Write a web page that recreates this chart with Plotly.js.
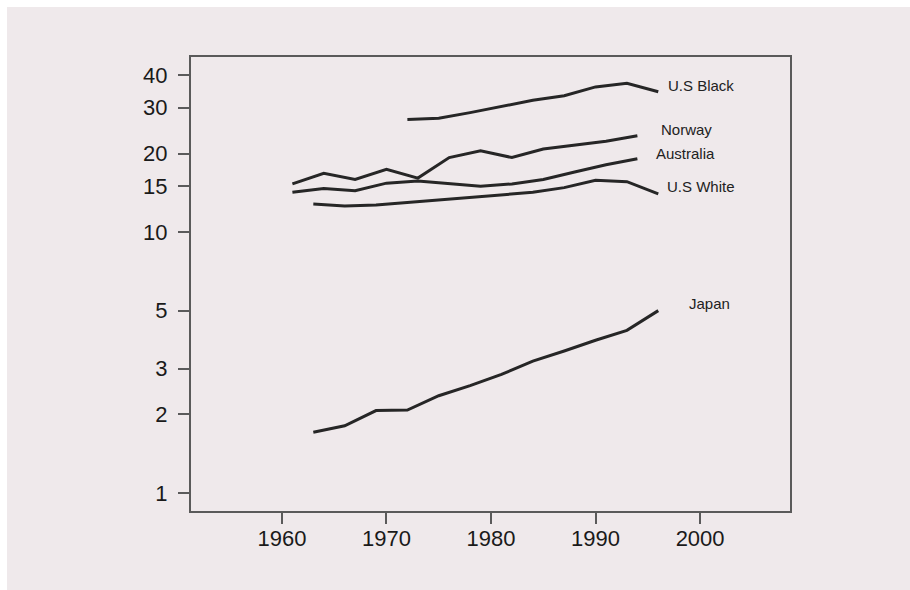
<!DOCTYPE html>
<html>
<head>
<meta charset="utf-8">
<script src="https://cdn.plot.ly/plotly-3.0.1.min.js"></script>
<style>
  html, body { margin: 0; padding: 0; background: #efe9eb; overflow: hidden; }
  #topstrip { position: absolute; left: 0; top: 0; width: 910px; height: 7px; background: #ffffff; }
  #leftstrip { position: absolute; left: 0; top: 0; width: 7px; height: 590px; background: #ffffff; }
  #chart { position: absolute; left: 7px; top: 7px; width: 903px; height: 583px; }
</style>
</head>
<body>
<div id="topstrip"></div>
<div id="leftstrip"></div>
<div id="chart"></div>
<script>
// Data
const usBlackYears = [1972, 1975, 1978, 1981, 1984, 1987, 1990, 1993, 1996];
const usBlackValues = [27.0, 27.3, 28.7, 30.4, 32.0, 33.3, 36.0, 37.2, 34.5];

const norwayYears = [1961, 1964, 1967, 1970, 1973, 1976, 1979, 1982, 1985, 1988, 1991, 1994];
const norwayValues = [15.3, 16.8, 15.9, 17.4, 16.1, 19.3, 20.5, 19.3, 20.8, 21.6, 22.3, 23.4];

const australiaYears = [1961, 1964, 1967, 1970, 1973, 1976, 1979, 1982, 1985, 1988, 1991, 1994];
const australiaValues = [14.2, 14.7, 14.4, 15.4, 15.7, 15.3, 15.0, 15.3, 15.9, 17.0, 18.1, 19.1];

const usWhiteYears = [1963, 1966, 1969, 1972, 1975, 1978, 1981, 1984, 1987, 1990, 1993, 1996];
const usWhiteValues = [12.8, 12.6, 12.7, 13.0, 13.3, 13.6, 13.9, 14.2, 14.8, 15.8, 15.6, 14.0];

const japanYears = [1963, 1966, 1969, 1972, 1975, 1978, 1981, 1984, 1987, 1990, 1993, 1996];
const japanValues = [1.71, 1.81, 2.07, 2.08, 2.36, 2.58, 2.85, 3.2, 3.5, 3.85, 4.2, 5.0];

const seriesNames = ["U.S Black", "Norway", "Australia", "U.S White", "Japan"];
const yTickValues = [1, 2, 3, 5, 10, 15, 20, 30, 40];
const yTickLabels = ["1", "2", "3", "5", "10", "15", "20", "30", "40"];
const xTickValues = [1960, 1970, 1980, 1990, 2000];
const xTickLabels = ["1960", "1970", "1980", "1990", "2000"];

const series = [
  {name: seriesNames[0], x: usBlackYears, y: usBlackValues, dx: 8, dy: 6},
  {name: seriesNames[1], x: norwayYears, y: norwayValues, dx: 22, dy: 6},
  {name: seriesNames[2], x: australiaYears, y: australiaValues, dx: 17, dy: 5},
  {name: seriesNames[3], x: usWhiteYears, y: usWhiteValues, dx: 7, dy: 7},
  {name: seriesNames[4], x: japanYears, y: japanValues, dx: 29, dy: 7}
];

const lineColor = "#262626";
const bg = "#efe9eb";

const traces = series.map(s => ({
  type: "scatter",
  mode: "lines",
  name: s.name,
  x: s.x,
  y: s.y,
  line: {color: lineColor, width: 3},
  hoverinfo: "x+y+name"
}));

const annotations = series.map(s => ({
  x: s.x[s.x.length - 1],
  y: Math.log10(s.y[s.y.length - 1]),
  xref: "x", yref: "y",
  text: s.name,
  showarrow: false,
  xanchor: "left",
  yanchor: "middle",
  xshift: s.dx,
  yshift: s.dy,
  font: {family: "Liberation Sans, Arial, sans-serif", size: 15, color: "#222222"}
}));

const axisCommon = {
  showline: true,
  linecolor: "#5a5a5a",
  linewidth: 2,
  mirror: true,
  showgrid: false,
  zeroline: false,
  ticks: "outside",
  ticklen: 11,
  tickwidth: 2,
  tickcolor: "#5a5a5a",
  tickfont: {family: "Liberation Sans, Arial, sans-serif", size: 22, color: "#1a1a1a"}
};

const layout = {
  width: 903,
  height: 583,
  paper_bgcolor: bg,
  plot_bgcolor: bg,
  showlegend: false,
  margin: {l: 184, r: 120, t: 50, b: 79, pad: 0},
  xaxis: Object.assign({}, axisCommon, {
    range: [1951.3, 2008.6],
    tickmode: "array",
    tickvals: xTickValues,
    ticktext: xTickLabels,
    ticklabelstandoff: -4
  }),
  yaxis: Object.assign({}, axisCommon, {
    type: "log",
    range: [-0.069, 1.671],
    tickmode: "array",
    tickvals: yTickValues,
    ticktext: yTickLabels,
    ticklabelstandoff: 6
  }),
  annotations: annotations
};

Plotly.newPlot("chart", traces, layout, {displayModeBar: false, staticPlot: true});
</script>
</body>
</html>
